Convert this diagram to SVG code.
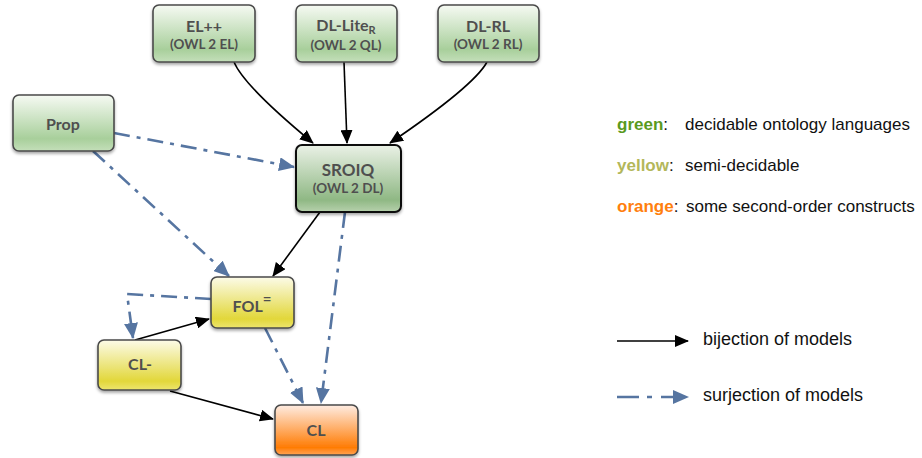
<svg xmlns="http://www.w3.org/2000/svg" width="922" height="458" viewBox="0 0 922 458">
<defs>
<linearGradient id="gGreen" x1="0" y1="0" x2="0" y2="1">
<stop offset="0" stop-color="#f6faf3"/>
<stop offset="0.78" stop-color="#a8cf9b"/>
<stop offset="1" stop-color="#c4dfba"/>
</linearGradient>
<linearGradient id="gGreenDark" x1="0" y1="0" x2="0" y2="1">
<stop offset="0" stop-color="#eaf1e6"/>
<stop offset="0.82" stop-color="#8fb884"/>
<stop offset="1" stop-color="#b7d1ad"/>
</linearGradient>
<linearGradient id="gYellow" x1="0" y1="0" x2="0" y2="1">
<stop offset="0" stop-color="#fcfbe8"/>
<stop offset="0.82" stop-color="#e2d73a"/>
<stop offset="1" stop-color="#ede56e"/>
</linearGradient>
<linearGradient id="gOrange" x1="0" y1="0" x2="0" y2="1">
<stop offset="0" stop-color="#feece2"/>
<stop offset="0.85" stop-color="#ff7c05"/>
<stop offset="1" stop-color="#ffa455"/>
</linearGradient>
<filter id="shadow" x="-10%" y="-10%" width="125%" height="135%">
<feDropShadow dx="0" dy="2" stdDeviation="1.5" flood-color="#000" flood-opacity="0.35"/>
</filter>
<marker id="arrBlack" markerUnits="userSpaceOnUse" markerWidth="14" markerHeight="12" viewBox="0 0 14 12" refX="13" refY="6" orient="auto">
<path d="M0,0 L14,6 L0,12 Z" fill="#000"/>
</marker>
<marker id="arrBlue" markerUnits="userSpaceOnUse" markerWidth="16" markerHeight="14" viewBox="0 0 16 14" refX="15" refY="7" orient="auto">
<path d="M0,0 L16,7 L0,14 Z" fill="#5675a1"/>
</marker>
</defs>
<style>
.node rect { stroke: #4a4a4a; stroke-width: 1.6; filter: url(#shadow); }
.node text { font-family: Lato, "Open Sans", "DejaVu Sans", sans-serif; font-weight: bold; fill: #4f4f4f; text-anchor: middle; }
.main { font-size: 16px; }
.sub { font-size: 13.5px; }
.bij { fill: none; stroke: #000; stroke-width: 1.6; marker-end: url(#arrBlack); }
.sur { fill: none; stroke: #5675a1; stroke-width: 2.6; stroke-dasharray: 16 7 4 7; marker-end: url(#arrBlue); }
.leg { font-family: "Liberation Sans", Arial, sans-serif; font-size: 17px; fill: #111; }
.leg2 { font-family: "Liberation Sans", Arial, sans-serif; font-size: 18px; fill: #111; }
</style>

<g id="connectors">
<path class="bij" d="M234,62 Q244,86 313,143"/>
<path class="bij" d="M344,62 L347,143"/>
<path class="bij" d="M487,62 Q474,86 390,143"/>
<path class="sur" d="M114,133 L294,167"/>
<path class="sur" d="M93,151 L229,276"/>
<path class="bij" d="M320,212 L273,276"/>
<path class="sur" d="M345,212 L321,403"/>
<path class="sur" d="M265,328 L303,403"/>
<path class="sur" d="M211,299 L127,294 L133,338"/>
<path class="bij" d="M135,340 L209,319"/>
<path class="bij" d="M170,391 L273,419"/>
</g>

<g id="node-elpp" class="node">
<rect x="153" y="5" width="102" height="57" rx="6" fill="url(#gGreen)"/>
<text class="main" x="204" y="32">EL++</text>
<text class="sub" x="204" y="49">(OWL 2 EL)</text>
</g>
<g id="node-dllite" class="node">
<rect x="296" y="5" width="101" height="57" rx="6" fill="url(#gGreen)"/>
<text class="main" x="346" y="31">DL-Lite<tspan font-size="11" dy="3">R</tspan></text>
<text class="sub" x="346" y="50">(OWL 2 QL)</text>
</g>
<g id="node-dlrl" class="node">
<rect x="438" y="5" width="101" height="57" rx="6" fill="url(#gGreen)"/>
<text class="main" x="488" y="32">DL-RL</text>
<text class="sub" x="488" y="49">(OWL 2 RL)</text>
</g>
<g id="node-prop" class="node">
<rect x="13" y="95" width="101" height="56" rx="6" fill="url(#gGreen)"/>
<text class="main" x="63" y="130">Prop</text>
</g>
<g id="node-sroiq" class="node">
<rect x="296" y="145" width="105" height="67" rx="6" fill="url(#gGreenDark)" style="stroke:#111;stroke-width:2"/>
<text class="main" x="348" y="176" style="font-size:17px">SROIQ</text>
<text class="sub" x="348" y="193">(OWL 2 DL)</text>
</g>
<g id="node-fol" class="node">
<rect x="211" y="277" width="83" height="51" rx="6" fill="url(#gYellow)"/>
<text class="main" x="252" y="312">FOL<tspan font-size="15" dy="-8">=</tspan></text>
</g>
<g id="node-clminus" class="node">
<rect x="98" y="340" width="83" height="50" rx="6" fill="url(#gYellow)"/>
<text class="main" x="140" y="370">CL-</text>
</g>
<g id="node-cl" class="node">
<rect x="275" y="405" width="83" height="50" rx="6" fill="url(#gOrange)"/>
<text class="main" x="316" y="436">CL</text>
</g>

<g id="legend">
<text class="leg" x="617" y="130"><tspan font-weight="bold" fill="#5a9a1e">green</tspan>:</text>
<text class="leg" x="685" y="130">decidable ontology languages</text>
<text class="leg" x="617" y="171"><tspan font-weight="bold" fill="#b3b75a">yellow</tspan>:</text>
<text class="leg" x="685" y="171">semi-decidable</text>
<text class="leg" x="617" y="212"><tspan font-weight="bold" fill="#ff7f0e">orange</tspan>:</text>
<text class="leg" x="686" y="212">some second-order constructs</text>
<path class="bij" d="M617,341 L688,341"/>
<text class="leg2" x="703" y="345">bijection of models</text>
<path class="sur" d="M617,397 L688,397" style="stroke-dasharray:22 8 5 9"/>
<text class="leg2" x="703" y="401">surjection of models</text>
</g>
</svg>
